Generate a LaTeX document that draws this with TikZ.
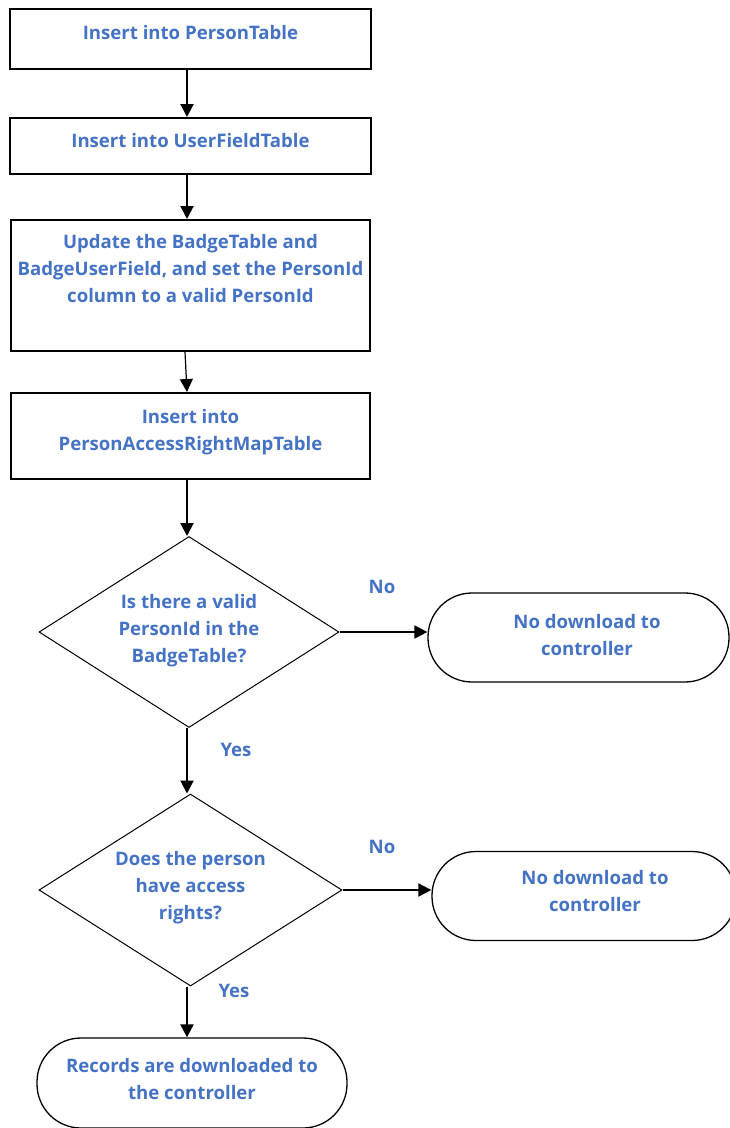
\documentclass[tikz,border=0pt]{standalone}
\usepackage{fontspec}
\setmainfont{Open Sans}
\usetikzlibrary{arrows.meta,shapes.geometric}
\definecolor{txtblue}{RGB}{68,114,196}
\begin{document}
\begin{tikzpicture}[x=1pt,y=1pt,
  txt/.style={text=txtblue,font=\fontsize{18.6}{27}\selectfont\bfseries,align=center,inner sep=0pt},
  procbox/.style={draw,line width=2pt,minimum width=361pt,inner sep=0pt},
  termbox/.style={draw,line width=1.3pt,rounded corners=44pt,minimum height=89pt,inner sep=0pt},
  decbox/.style={draw,diamond,line width=1pt,inner sep=0pt},
  conn/.style={line width=2pt,-{Triangle[width=13pt,length=13pt]}}]
\useasboundingbox (0,0) rectangle (730,-1128);
\node[procbox,minimum height=60pt] (b1) at (190.5,-39) {};
\node[txt] at (190.5,-33) {Insert into PersonTable};
\node[procbox,minimum height=56pt] (b2) at (190.5,-146) {};
\node[txt] at (190.5,-141) {Insert into UserFieldTable};
\node[procbox,minimum width=359pt,minimum height=131pt] (b3) at (190.5,-285.5) {};
\node[txt] at (190.5,-269) {Update the BadgeTable and\\BadgeUserField, and set the PersonId\\column to a valid PersonId};
\node[procbox,minimum width=359pt,minimum height=86pt] (b4) at (190.5,-436) {};
\node[txt] at (190.5,-432.5) {Insert into\\PersonAccessRightMapTable};
\node[decbox,minimum width=300pt,minimum height=191pt] (d1) at (189,-632) {};
\node[txt] at (189,-631) {Is there a valid\\PersonId in the\\BadgeTable?};
\node[decbox,minimum width=303pt,minimum height=192pt] (d2) at (190.5,-890) {};
\node[txt] at (190.5,-888) {Does the person\\have access\\rights?};
\node[termbox,minimum width=301pt] (t1) at (578.5,-637.5) {};
\node[txt] at (587,-635.5) {No download to\\controller};
\node[termbox,minimum width=304pt] (t2) at (584,-896) {};
\node[txt] at (595,-891.5) {No download to\\controller};
\node[termbox,minimum width=310pt,minimum height=90pt] (t3) at (192,-1083) {};
\node[txt] at (192,-1079.5) {Records are downloaded to\\the controller};
\draw[conn] ([xshift=-3.5pt]b1.south) -- ([xshift=-3.5pt]b2.north);
\draw[conn] ([xshift=-3.5pt]b2.south) -- ([xshift=-3.5pt]b3.north);
\draw[conn,line width=1.2pt] ([xshift=-5.5pt]b3.south) -- ([xshift=-3.5pt]b4.north);
\draw[conn] ([xshift=-3.5pt]b4.south) -- ([xshift=-2pt]d1.north);
\draw[conn] ([xshift=-2pt]d1.south) -- ([xshift=-3.5pt]d2.north);
\draw[conn] ([xshift=-3.5pt]d2.south) -- ([xshift=-5pt]t3.north);
\draw[conn] (d1.east) -- (d1.east -| t1.west);
\draw[conn] (d2.east) -- (d2.east -| t2.west);
\node[txt] (no1) at (382,-587) {No};
\node[txt] (no2) at (382,-847) {No};
\node[txt] (yes1) at (236,-750) {Yes};
\node[txt] (yes2) at (234,-991) {Yes};
\end{tikzpicture}
\end{document}
